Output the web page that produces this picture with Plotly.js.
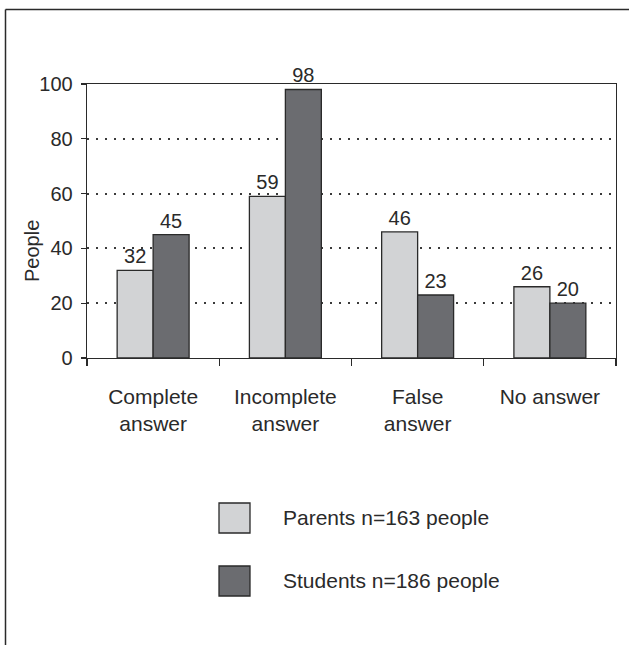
<!DOCTYPE html>
<html>
<head>
<meta charset="utf-8">
<script src="https://cdn.plot.ly/plotly-3.0.1.min.js"></script>
<style>
  html, body { margin: 0; padding: 0; background: #fff; }
  #chart { width: 629px; height: 645px; }
</style>
</head>
<body>
<div id="chart"></div>
<script>
// Answer categories (two-line tick labels)
const categories = ['Complete<br>answer', 'Incomplete<br>answer', 'False<br>answer', 'No answer'];

// Number of people per answer type
const parentsValues = [32, 59, 46, 26];
const studentsValues = [45, 98, 23, 20];

const seriesNames = ['Parents n=163 people', 'Students n=186 people'];
const yTicks = [0, 20, 40, 60, 80, 100];

const W = 629, H = 645;
const M = { l: 87, r: 13, t: 84, b: 287 };
const PARENT_COLOR = '#d2d3d5';
const STUDENT_COLOR = '#6b6c70';
const INK = '#2a2a2a';
const FONT = 'Liberation Sans, Arial, Helvetica, sans-serif';
const NUM_SIZE = 20;   // digits: tick and value labels
const WORD_SIZE = 21;  // category, legend and axis title text

// pixel -> paper coordinate helpers for decorations outside the plot area
const pw = W - M.l - M.r, ph = H - M.t - M.b;
const px = x => (x - M.l) / pw;
const py = y => (H - M.b - y) / ph;

const barStyle = (color) => ({
  color: color,
  line: { color: INK, width: 1.3 }
});

const valueFont = { family: FONT, size: NUM_SIZE, color: INK };

const traces = [
  {
    type: 'bar', name: seriesNames[0], x: categories, y: parentsValues,
    marker: barStyle(PARENT_COLOR),
    text: parentsValues.map(String), textposition: 'outside',
    textfont: valueFont, constraintext: 'none',
    cliponaxis: false, hoverinfo: 'x+y'
  },
  {
    type: 'bar', name: seriesNames[1], x: categories, y: studentsValues,
    marker: barStyle(STUDENT_COLOR),
    text: studentsValues.map(String), textposition: 'outside',
    textfont: valueFont, constraintext: 'none',
    cliponaxis: false, hoverinfo: 'x+y'
  }
];

// Legend drawn as large swatches with labels under the chart
const legendRows = [
  { color: PARENT_COLOR, label: seriesNames[0], top: 503 },
  { color: STUDENT_COLOR, label: seriesNames[1], top: 566 }
];
const shapes = [];
const annotations = [];
legendRows.forEach(r => {
  shapes.push({
    type: 'rect', xref: 'paper', yref: 'paper',
    x0: px(219), x1: px(250), y0: py(r.top + 30), y1: py(r.top),
    fillcolor: r.color, line: { color: INK, width: 1.3 }
  });
  annotations.push({
    xref: 'paper', yref: 'paper', x: px(281), y: py(r.top + 14.5),
    xanchor: 'left', yanchor: 'middle', showarrow: false,
    text: r.label, font: { family: FONT, size: WORD_SIZE, color: INK }
  });
});

// Outer frame: top and left rules
shapes.push({
  type: 'line', xref: 'paper', yref: 'paper',
  x0: px(5.5), x1: px(640), y0: py(9.5), y1: py(9.5),
  line: { color: INK, width: 1.5 }
});
shapes.push({
  type: 'line', xref: 'paper', yref: 'paper',
  x0: px(5.5), x1: px(5.5), y0: py(9.5), y1: py(660),
  line: { color: INK, width: 1.5 }
});

// Y-axis title
annotations.push({
  xref: 'paper', yref: 'paper', x: px(32), y: py(251),
  xanchor: 'center', yanchor: 'middle', showarrow: false, textangle: -90,
  text: 'People', font: { family: FONT, size: NUM_SIZE, color: INK }
});

const layout = {
  width: W, height: H,
  margin: M,
  paper_bgcolor: '#fff', plot_bgcolor: '#fff',
  font: { family: FONT, size: WORD_SIZE, color: INK },
  showlegend: false,
  barmode: 'group',
  bargap: 0.456,
  bargroupgap: 0,
  xaxis: {
    type: 'category',
    tickson: 'boundaries',
    ticks: 'outside', ticklen: 7, tickwidth: 1.3, tickcolor: INK,
    showline: true, linecolor: INK, linewidth: 1.3, mirror: true,
    showgrid: false, zeroline: false,
    ticklabelstandoff: 19,
    tickfont: { family: FONT, size: WORD_SIZE, color: INK }
  },
  yaxis: {
    range: [0, 100],
    tickvals: yTicks,
    ticks: 'outside', ticklen: 5, tickwidth: 1.3, tickcolor: INK,
    showline: true, linecolor: INK, linewidth: 1.3, mirror: true,
    showgrid: true, gridcolor: '#3a3a3a', gridwidth: 2, griddash: '2px,7px',
    zeroline: false,
    ticklabelstandoff: 4,
    tickfont: { family: FONT, size: NUM_SIZE, color: INK }
  },
  shapes: shapes,
  annotations: annotations
};

Plotly.newPlot('chart', traces, layout, { displayModeBar: false, staticPlot: true });
</script>
</body>
</html>
